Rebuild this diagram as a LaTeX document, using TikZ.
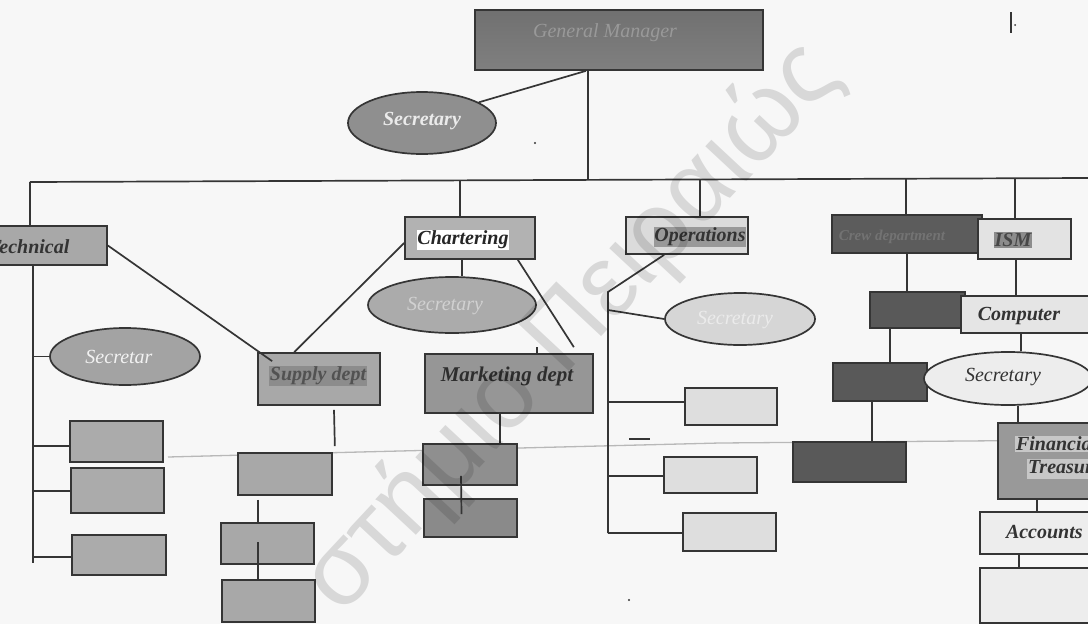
\documentclass[tikz,border=0pt]{standalone}
\usepackage{fontspec}
\setmainfont{Liberation Serif}
\newfontfamily\wmfont{Liberation Sans}
\usetikzlibrary{calc,shapes.geometric}

\definecolor{ln}{HTML}{353535}
\definecolor{paper}{HTML}{F7F7F7}

\begin{document}
\begin{tikzpicture}[x=1pt,y=-1pt,
  box/.style={draw=ln, line width=1.7pt, inner sep=0pt, rectangle},
  oval/.style={draw=ln, line width=1.7pt, inner sep=0pt, ellipse},
  lbl/.style={font=\bfseries\itshape\fontsize{20}{22}\selectfont, inner sep=0.8pt, text=black!80},
  ilbl/.style={font=\itshape\fontsize{20}{22}\selectfont, inner sep=0.8pt},
  link/.style={draw=ln, line width=1.7pt}]

\useasboundingbox (0,0) rectangle (1088,624);
\fill[paper] (0,0) rectangle (1088,624);

\begin{scope}
\clip (0,0) rectangle (1088,624);

% faint scanner crease across the page
\draw[black!28, line width=1.3pt] (168,457) -- (360,452) -- (720,443) -- (1088,440);

% ---------- top level ----------
\node[box, minimum width=288pt, minimum height=60pt, top color=black!56, bottom color=black!50] (gm) at (619,40) {};
\node[ilbl, text=black!40] (gmt) at (605,33) {General Manager};
\node[oval, fill=black!44, minimum width=148pt, minimum height=62pt] (sec1) at (422,123) {};
\node[lbl, text=white!92!black] (sec1t) at (422,121) {Secretary};

\coordinate (barL) at (30,182);
\coordinate (barR) at (1088,178);

% ---------- Technical ----------
\node[box, fill=black!34, minimum width=117pt, minimum height=39pt] (tech) at (48.5,245.5) {};
\node[lbl, anchor=west] (techt) at (-12,247) {Technical};
\node[oval, fill=black!36, minimum width=150pt, minimum height=57pt] (secL) at (125,356.5) {};
\node[lbl, text=white!95!black, font=\itshape\fontsize{20}{22}\selectfont] (secLt) at (119,357) {Secretar};
\node[box, fill=black!33, minimum width=93pt, minimum height=41pt] (tl1) at (116.5,441.5) {};
\node[box, fill=black!33, minimum width=93pt, minimum height=45pt] (tl2) at (117.5,490.5) {};
\node[box, fill=black!33, minimum width=94pt, minimum height=40pt] (tl3) at (119,555) {};

% ---------- Chartering ----------
\node[box, fill=black!30, minimum width=130pt, minimum height=42pt] (chart) at (470,238) {};
\node[lbl, fill=white, text=black!85] (chartt) at (463,240) {Chartering};
\node[oval, fill=black!33, minimum width=168pt, minimum height=56pt] (secC) at (452,305) {};
\node[ilbl, text=black!18] (secCt) at (445,306) {Secretary};
\node[box, fill=black!34, minimum width=122pt, minimum height=52pt] (supply) at (319,379) {};
\node[lbl, fill=black!45, text=black!68] (supplyt) at (318,376) {Supply dept};
\node[box, fill=black!41, minimum width=168pt, minimum height=59pt] (mkt) at (509,383.5) {};
\node[lbl, text=black!82, font=\bfseries\itshape\fontsize{21}{23}\selectfont] (mktt) at (507,376) {Marketing dept};

\node[box, fill=black!34, minimum width=94pt, minimum height=42pt] (sup1) at (285,474) {};
\node[box, fill=black!34, minimum width=93pt, minimum height=41pt] (sup2) at (267.5,543.5) {};
\node[box, fill=black!34, minimum width=93pt, minimum height=42pt] (sup3) at (268.5,601) {};
\node[box, fill=black!44, minimum width=94pt, minimum height=41pt] (mk1) at (470,464.5) {};
\node[box, fill=black!46, minimum width=93pt, minimum height=38pt] (mk2) at (470.5,518) {};

% ---------- Operations ----------
\node[box, fill=black!14, minimum width=122pt, minimum height=37pt] (ops) at (687,235.5) {};
\node[lbl, fill=black!40, text=black!80] (opst) at (700,237) {Operations};
\node[oval, fill=black!16, minimum width=150pt, minimum height=52pt] (secO) at (740,319) {};
\node[ilbl, text=black!8] (secOt) at (735,320) {Secretary};
\node[box, fill=black!13, minimum width=92pt, minimum height=37pt] (opA) at (731,406.5) {};
\node[box, fill=black!13, minimum width=93pt, minimum height=36pt] (opB) at (710.5,475) {};
\node[box, fill=black!13, minimum width=93pt, minimum height=38pt] (opC) at (729.5,532) {};

% ---------- dark column ----------
\node[box, fill=black!64, minimum width=150pt, minimum height=38pt] (crew) at (907,234) {};
\node[ilbl, text=black!55, font=\bfseries\itshape\fontsize{15}{17}\selectfont] (crewt) at (892,237) {Crew department};
\node[box, fill=black!65, minimum width=95pt, minimum height=36pt] (dk2) at (917.5,310) {};
\node[box, fill=black!65, minimum width=94pt, minimum height=38pt] (dk3) at (880,382) {};
\node[box, fill=black!65, minimum width=113pt, minimum height=40pt] (dk4) at (849.5,462) {};

% ---------- ISM column ----------
\node[box, fill=black!11, minimum width=93pt, minimum height=40pt] (ism) at (1024.5,239) {};
\node[lbl, fill=black!45, text=black!72] (ismt) at (1013,240) {ISM};
\node[box, fill=black!10, minimum width=139pt, minimum height=37pt] (comp) at (1030.5,314.5) {};
\node[lbl] (compt) at (1019,316) {Computer};
\node[oval, fill=black!7, minimum width=168pt, minimum height=53pt] (secR) at (1008,378.5) {};
\node[ilbl, text=black!80] (secRt) at (1003,377) {Secretary};
\node[box, fill=black!40, minimum width=112pt, minimum height=76pt] (fin) at (1054,461) {};
\node[lbl, fill=black!22, anchor=west] (fint1) at (1015,444) {Financial};
\node[lbl, fill=black!22, anchor=west] (fint2) at (1027,469) {Treasury};
\node[box, fill=black!7, minimum width=130pt, minimum height=42pt] (acc) at (1045,533) {};
\node[lbl, anchor=west] (acct) at (1005,532) {Accounts};
\node[box, fill=black!7, minimum width=130pt, minimum height=55pt] (bot) at (1045,595.5) {};

% ---------- connectors ----------
\draw[link] (barL) -- (barR);
\draw[link] (gm.south -| 588,0) -- (588,180);
\draw[link] ($(gm.south)+(-33,0)$) -- (sec1.20);

\draw[link] (barL) -- (tech.north -| barL);
\draw[link] (460,180) -- (chart.north -| 460,0);
\draw[link] (700,179) -- (ops.north -| 700,0);
\draw[link] (906,179) -- (crew.north -| 906,0);
\draw[link] (1015,178) -- (ism.north -| 1015,0);

% Technical spine
\coordinate (tsp) at (33,563);
\draw[link] (tech.south -| tsp) -- (tsp);
\draw[link] (secL.west -| tsp) -- (secL.west);
\draw[link] (33,446) -- (tl1.west |- 0,446);
\draw[link] (33,491) -- (tl2.west |- 0,491);
\draw[link] (33,557) -- (tl3.west |- 0,557);
\draw[link] (tech.east) -- ($(supply.north west)+(15,9)$);

% Chartering
\draw[link] (chart.south -| 462,0) -- (secC.north -| 462,0);
\draw[link] ($(chart.west)+(0,5)$) -- ($(supply.north west)+(37,0)$);
\draw[link] ($(chart.south east)+(-18,0)$) -- ($(mkt.north east)+(-20,-6)$);
\draw[link] ($(mkt.north)+(28,-6)$) -- ($(mkt.north)+(28,0)$);
\draw[link] (mkt.south -| 500,0) -- (mk1.north -| 500,0);
\draw[link] ($(mk1.south)+(-9,-10)$) -- ($(mk2.north)+(-9,16)$);
\draw[link] ($(supply.south)+(15,4)$) -- ($(sup1.north east)+(2,-6)$);
\draw[link] ($(sup1.south)+(-27,4)$) -- ($(sup2.north)+(-9.5,0)$);
\draw[link] ($(sup2.north)+(-9.5,20)$) -- ($(sup3.north)+(-10.5,2)$);

% Operations
\coordinate (osp) at (608,292);
\coordinate (ospb) at (608,533);
\draw[link] ($(ops.south west)+(39,0)$) -- (osp) -- (ospb);
\draw[link] (608,310) -- (secO.west);
\draw[link] (608,402) -- (opA.west |- 0,402);
\draw[link] (608,476) -- (opB.west |- 0,476);
\draw[link] (ospb) -- (opC.west |- ospb);
\draw[link] (629,439) -- (650,439);

% dark column
\draw[link] (crew.south -| 907,0) -- (dk2.north -| 907,0);
\draw[link] (dk2.south -| 890,0) -- (dk3.north -| 890,0);
\draw[link] (dk3.south -| 872,0) -- (dk4.north -| 872,0);

% ISM column
\draw[link] (ism.south -| 1016,0) -- (comp.north -| 1016,0);
\draw[link] (comp.south -| 1021,0) -- (secR.north -| 1021,0);
\draw[link] (secR.south -| 1018,0) -- (fin.north -| 1018,0);
\draw[link] (fin.south -| 1037,0) -- (acc.north -| 1037,0);
\draw[link] (acc.south -| 1019,0) -- (bot.north -| 1019,0);

% stray marks
\draw[ln, line width=1.5pt] (1011,12) -- (1011,33);
\fill[ln] (1015,25) circle (1pt);
\fill[ln] (535,143) circle (1.2pt);
\fill[ln] (629,600) circle (1.2pt);

% watermark
\node[rotate=47, text=black, text opacity=0.12, font=\wmfont\fontsize{102}{102}\selectfont] (wm) at (572,328) {στήμιο Πειραιώς};
\end{scope}
\end{tikzpicture}
\end{document}
